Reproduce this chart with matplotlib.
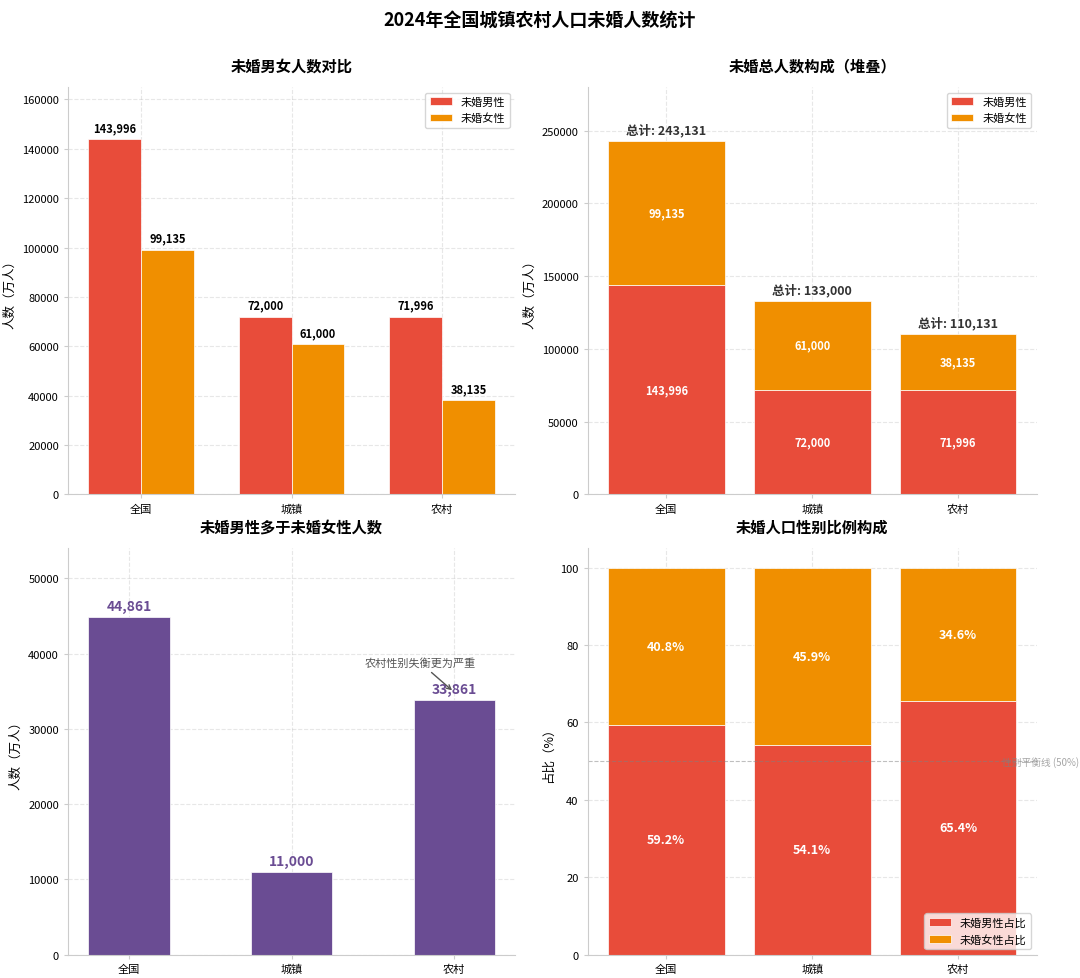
import matplotlib
matplotlib.use("Agg")
import matplotlib.pyplot as plt
import numpy as np

plt.rcParams['font.family'] = ['Noto Sans CJK SC', 'DejaVu Sans']
plt.rcParams['axes.unicode_minus'] = False

categories = ['全国', '城镇', '农村']
male = [143996, 72000, 71996]
female = [99135, 61000, 38135]
diff = [44861, 11000, 33861]
male_pct = [59.2, 54.1, 65.4]
female_pct = [40.8, 45.9, 34.6]

RED = '#E84C3A'
ORANGE = '#F08F00'
PURPLE = '#6A4C93'

fig = plt.figure(figsize=(10.8, 9.79), dpi=100)
fig.suptitle('2024年全国城镇农村人口未婚人数统计', fontsize=13, fontweight='bold', y=0.988)

def style(ax):
    ax.spines['top'].set_visible(False)
    ax.spines['right'].set_visible(False)
    ax.spines['left'].set_color('#cccccc')
    ax.spines['bottom'].set_color('#cccccc')
    ax.grid(True, linestyle='--', alpha=0.3)
    ax.set_axisbelow(True)
    ax.tick_params(labelsize=8, length=3, color='#cccccc')

x = np.arange(len(categories))

# Top-left
ax1 = fig.add_axes([0.063, 0.494, 0.414, 0.416])
w = 0.35
b1 = ax1.bar(x - w/2, male, w, color=RED, label='未婚男性', edgecolor='white', linewidth=0.5)
b2 = ax1.bar(x + w/2, female, w, color=ORANGE, label='未婚女性', edgecolor='white', linewidth=0.5)
for bars in (b1, b2):
    for r in bars:
        ax1.text(r.get_x() + r.get_width()/2, r.get_height() + 2000, f'{int(r.get_height()):,}',
                 ha='center', va='bottom', fontsize=8, fontweight='bold')
ax1.set_xticks(x)
ax1.set_xticklabels(categories, fontsize=9)
ax1.set_ylim(0, 165000)
ax1.set_ylabel('人数（万人）', fontsize=9)
ax1.set_title('未婚男女人数对比', fontsize=11, fontweight='bold', pad=12)
ax1.legend(fontsize=8, loc='upper right')
style(ax1)

# Top-right
ax2 = fig.add_axes([0.544, 0.494, 0.416, 0.416])
s1 = ax2.bar(x, male, 0.8, color=RED, label='未婚男性', edgecolor='white', linewidth=0.5)
s2 = ax2.bar(x, female, 0.8, bottom=male, color=ORANGE, label='未婚女性', edgecolor='white', linewidth=0.5)
for i in range(len(categories)):
    ax2.text(x[i], male[i]/2, f'{male[i]:,}', ha='center', va='center', color='white', fontsize=8, fontweight='bold')
    ax2.text(x[i], male[i] + female[i]/2, f'{female[i]:,}', ha='center', va='center', color='white', fontsize=8, fontweight='bold')
    tot = male[i] + female[i]
    ax2.text(x[i], tot + 3000, f'总计: {tot:,}', ha='center', va='bottom', fontsize=9, fontweight='bold', color='#333333')
ax2.set_xticks(x)
ax2.set_xticklabels(categories, fontsize=8)
ax2.set_ylim(0, 280000)
ax2.set_ylabel('人数（万人）', fontsize=9)
ax2.set_title('未婚总人数构成（堆叠）', fontsize=11, fontweight='bold', pad=12)
ax2.legend(fontsize=8, loc='upper right')
style(ax2)

# Bottom-left
ax3 = fig.add_axes([0.063, 0.024, 0.414, 0.415])
d = ax3.bar(x, diff, 0.5, color=PURPLE, edgecolor='white', linewidth=0.5)
for i, v in enumerate(diff):
    ax3.text(x[i], v + 500, f'{v:,}', ha='center', va='bottom', fontsize=10, fontweight='bold', color=PURPLE)
ax3.annotate('农村性别失衡更为严重', xy=(x[2], diff[2] + 1000), xytext=(x[2] - 0.21, diff[2] + 4500),
             fontsize=8, color='#555555', ha='center',
             arrowprops=dict(arrowstyle='->', color='#555555', lw=1))
ax3.set_xticks(x)
ax3.set_xticklabels(categories, fontsize=8)
ax3.set_ylim(0, 54000)
ax3.set_ylabel('人数（万人）', fontsize=9)
ax3.set_title('未婚男性多于未婚女性人数', fontsize=11, fontweight='bold', pad=12)
style(ax3)

# Bottom-right
ax4 = fig.add_axes([0.544, 0.024, 0.416, 0.415])
ax4.bar(x, male_pct, 0.8, color=RED, label='未婚男性占比', edgecolor='white', linewidth=0.5)
ax4.bar(x, female_pct, 0.8, bottom=male_pct, color=ORANGE, label='未婚女性占比', edgecolor='white', linewidth=0.5)
for i in range(len(categories)):
    ax4.text(x[i], male_pct[i]/2, f'{male_pct[i]}%', ha='center', va='center', color='white', fontsize=9, fontweight='bold')
    ax4.text(x[i], male_pct[i] + female_pct[i]/2, f'{female_pct[i]}%', ha='center', va='center', color='white', fontsize=9, fontweight='bold')
ax4.axhline(50, color='gray', linestyle='--', linewidth=0.8, alpha=0.5)
ax4.text(2.3, 50, '性别平衡线 (50%)', fontsize=7, color='gray', alpha=0.7, va='center')
ax4.set_xticks(x)
ax4.set_xticklabels(categories, fontsize=8)
ax4.set_ylim(0, 105)
ax4.set_ylabel('占比（%）', fontsize=9)
ax4.set_title('未婚人口性别比例构成', fontsize=11, fontweight='bold', pad=12)
ax4.legend(fontsize=8, loc='lower right')
style(ax4)

fig.savefig('out.png', dpi=100)
